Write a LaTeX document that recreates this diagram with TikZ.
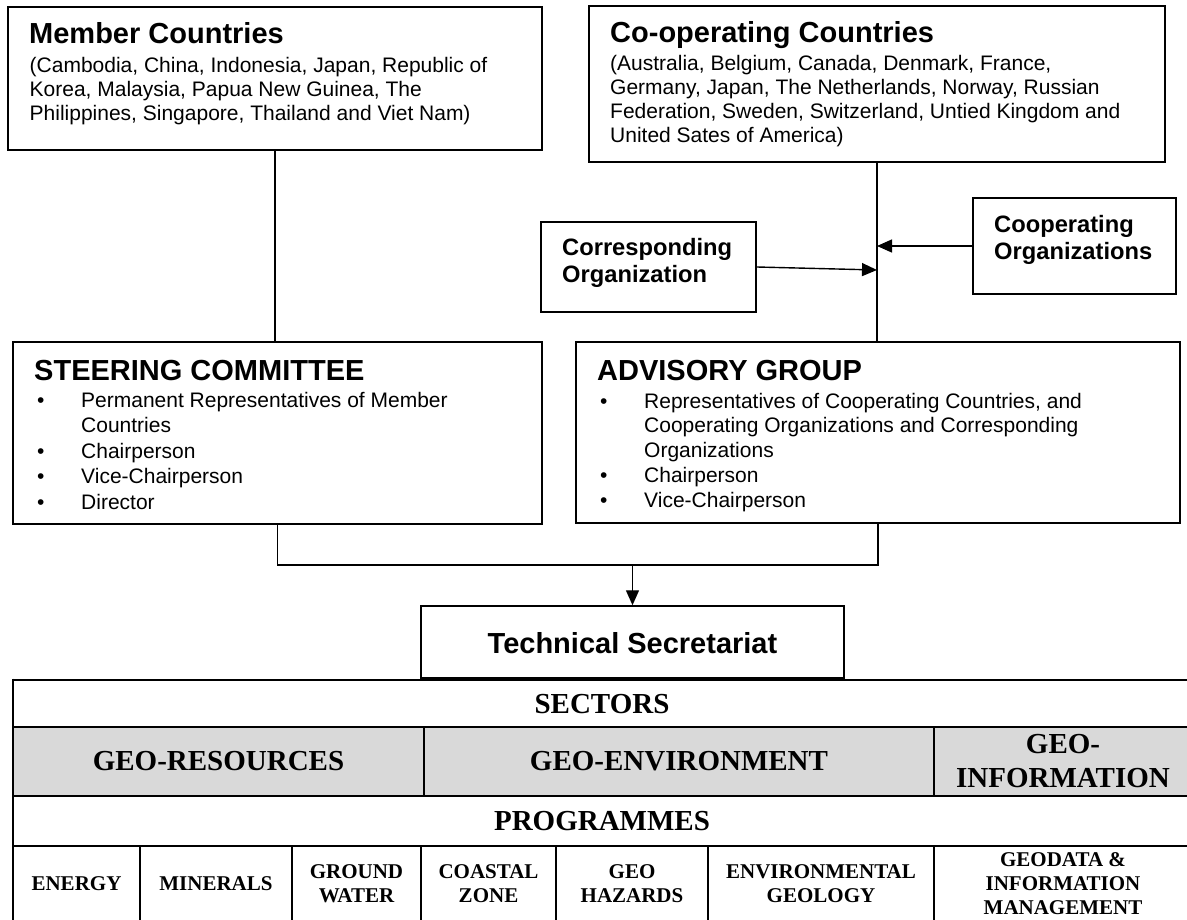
\documentclass[tikz,border=0pt]{standalone}
\usepackage{fontspec}
\setmainfont{Liberation Serif}
\setsansfont{Liberation Sans}
\usetikzlibrary{arrows.meta,positioning}
\definecolor{cellgray}{RGB}{217,217,217}
\newcommand{\bitem}{\makebox[44pt][l]{\textbullet}}
\newcommand{\bcont}{\hspace*{44pt}}

\begin{document}
\begin{tikzpicture}[x=1pt, y=-1pt,
  box/.style={draw, line width=1.5pt, inner sep=0pt},
  heading/.style={anchor=base west, inner sep=0pt, font=\sffamily\bfseries\fontsize{29}{33}\selectfont},
  body/.style={anchor=north west, inner sep=0pt, align=left, font=\sffamily\fontsize{21}{24}\selectfont},
  orgtext/.style={anchor=north west, inner sep=0pt, align=left, font=\sffamily\bfseries\fontsize{23.7}{27}\selectfont},
  link/.style={line width=1.4pt},
  arrow/.style={link, -{Triangle[length=15pt,width=13pt]}},
  grid/.style={line width=2.6pt},
  big/.style={inner sep=0pt, align=center, font=\bfseries\fontsize{29}{34}\selectfont},
  prog/.style={inner sep=0pt, align=center, font=\bfseries\fontsize{21}{24}\selectfont}]

  \useasboundingbox (0,0) rectangle (1187,920);
  \clip (0,0) rectangle (1187,920);

  % Draw the country boxes
  \node[box, minimum width=534pt, minimum height=143pt] (member) at (275,78.5) {};
  \node[heading] (memberhd) at (29,44) {Member Countries};
  \node[body] (memberbd) at (29.5,55.2) {\strut(Cambodia, China, Indonesia, Japan, Republic of\\Korea, Malaysia, Papua New Guinea, The\\Philippines, Singapore, Thailand and Viet Nam)};

  \node[box, minimum width=576pt, minimum height=156pt] (coop) at (877,84) {};
  \node[heading] (coophd) at (610,43) {Co-operating Countries};
  \node[body] (coopbd) at (610,53.2) {\strut(Australia, Belgium, Canada, Denmark, France,\\Germany, Japan, The Netherlands, Norway, Russian\\Federation, Sweden, Switzerland, Untied Kingdom and\\United Sates of America)};

  % Draw the organization boxes
  \node[box, minimum width=215pt, minimum height=90pt] (corr) at (648.5,267) {};
  \node[orgtext] (corrtx) at (562,236.1) {\strut Corresponding\\Organization};
  \node[box, minimum width=203pt, minimum height=96pt] (coorg) at (1074.5,246) {};
  \node[orgtext] (coorgtx) at (994,213.1) {\strut Cooperating\\Organizations};

  % Draw the committee boxes
  \node[box, minimum width=529pt, minimum height=182pt] (steer) at (277.5,433) {};
  \node[heading] (steerhd) at (34,380) {STEERING COMMITTEE};
  \node[body, font=\sffamily\fontsize{21}{25.5}\selectfont] (steerbd) at (37,389.15) {\strut\bitem Permanent Representatives of Member\\\bcont Countries\\\bitem Chairperson\\\bitem Vice-Chairperson\\\bitem Director};

  \node[box, minimum width=604pt, minimum height=181pt] (adv) at (878,432.5) {};
  \node[heading] (advhd) at (597,380) {ADVISORY GROUP};
  \node[body, font=\sffamily\fontsize{21}{24.8}\selectfont] (advbd) at (600,390.6) {\strut\bitem Representatives of Cooperating Countries, and\\\bcont Cooperating Organizations and Corresponding\\\bcont Organizations\\\bitem Chairperson\\\bitem Vice-Chairperson};

  % Draw the secretariat box
  \node[box, minimum width=423pt, minimum height=72pt] (tech) at (632.5,642) {};
  \node[heading, anchor=base] (techtx) at (632.5,653) {Technical Secretariat};

  % Draw the connectors
  \draw[link] (member.south) -- (member.south |- steer.north);
  \draw[link] (coop.south) -- (coop.south |- adv.north);
  \coordinate (corrjoin) at (coop.south |- 0,270);
  \draw[arrow] (corr.east) -- (corrjoin);
  \draw[arrow] (coorg.west) -- (coorg.west -| coop.south);
  \coordinate (techjoin) at (tech.north |- 0,565);
  \draw[link] (steer.south) |- (techjoin) -| (adv.south);
  \draw[arrow] (techjoin) -- (tech.north);

  % Draw the table
  \fill[cellgray] (13,727) rectangle (1200,796);
  \foreach \y in {680,727,796,846} {
    \draw[grid] (13,\y) -- (1200,\y); % Row line
  }
  \draw[grid] (13,678.7) -- (13,930);
  \foreach \x in {424,934} {
    \draw[grid] (\x,727) -- (\x,796); % Sector divider
  }
  \foreach \x in {140,292,421,556,708,934} {
    \draw[grid] (\x,846) -- (\x,930); % Programme divider
  }

  % Label the table
  \node[big] (sectors) at (602,704) {SECTORS};
  \node[big] (georesources) at (218.5,761) {GEO-RESOURCES};
  \node[big] (geoenvironment) at (679,761) {GEO-ENVIRONMENT};
  \node[big] (geoinformation) at (1063,761) {GEO-\\INFORMATION};
  \node[big] (programmes) at (602,821) {PROGRAMMES};
  \foreach \x/\name/\txt in {76.5/energy/ENERGY, 216/minerals/MINERALS,
      356.5/groundwater/{GROUND\\WATER}, 488.5/coastalzone/{COASTAL\\ZONE},
      632/geohazards/{GEO\\HAZARDS}, 821/envgeology/{ENVIRONMENTAL\\GEOLOGY},
      1063/geodata/{GEODATA \&\\INFORMATION\\MANAGEMENT}} {
    \node[prog] (\name) at (\x,884) {\txt};
  }

\end{tikzpicture}
\end{document}
